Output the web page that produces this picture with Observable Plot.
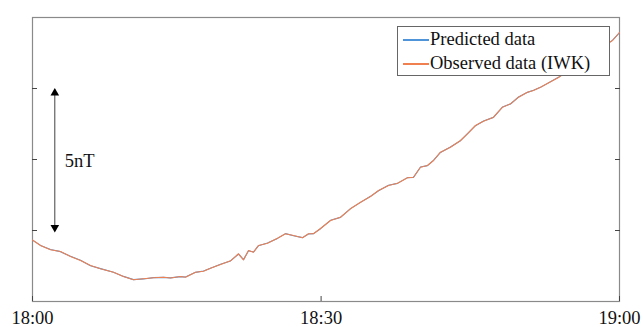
<!DOCTYPE html>
<html>
<head>
<meta charset="utf-8">
<script src="https://cdn.jsdelivr.net/npm/d3@7"></script>
<script src="https://cdn.jsdelivr.net/npm/@observablehq/plot@0.6"></script>
<style>
  html, body { margin: 0; padding: 0; background: #fff; }
  #wrap { position: relative; width: 643px; height: 327px; font-family: "Times New Roman", "Liberation Serif", Times, serif; }
  #legend { position: absolute; left: 397px; top: 26px; width: 211px; height: 48px; border: 1px solid #666; background: #fff; font-size: 18.5px; font-family: "Times New Roman", "Liberation Serif", Times, serif; }
  .row { position: absolute; left: 0; width: 211px; height: 24px; line-height: 24px; white-space: nowrap; }
  .sw { position: absolute; left: 5px; top: 12px; width: 26px; height: 1.5px; display: block; }
  .lb { position: absolute; left: 32px; top: 0; color: #111; display: block; }
</style>
</head>
<body>
<div id="wrap"></div>
<script>
// time in minutes after 18:00
const minutes = [0, 0.82, 1.84, 2.86, 3.88, 4.91, 5.93, 6.95, 8.28, 9.30, 10.32, 11.35, 12.37, 13.39, 14.10, 15.13, 15.64, 16.66, 17.48, 18.19, 19.22, 20.24, 21.06, 21.57, 22.08, 22.59, 23.10, 24.02, 25.04, 25.86, 26.68, 27.60, 28.21, 28.72, 29.44, 30.46, 31.48, 32.50, 33.53, 34.55, 35.37, 36.39, 37.31, 38.33, 38.94, 39.66, 40.37, 40.99, 41.70, 42.72, 43.75, 44.46, 45.28, 46.10, 47.12, 48.04, 48.86, 49.68, 50.59, 51.21, 51.92, 53.76, 56.52, 59.28, 60];
// observed field (nT, relative)
const observed = [2.165, 1.972, 1.820, 1.761, 1.585, 1.444, 1.268, 1.151, 1.032, 0.880, 0.764, 0.799, 0.835, 0.856, 0.827, 0.880, 0.856, 1.032, 1.067, 1.173, 1.303, 1.433, 1.680, 1.468, 1.796, 1.736, 1.972, 2.053, 2.229, 2.384, 2.324, 2.243, 2.384, 2.384, 2.570, 2.852, 2.968, 3.264, 3.496, 3.697, 3.908, 4.085, 4.165, 4.356, 4.377, 4.729, 4.789, 4.965, 5.257, 5.433, 5.669, 5.905, 6.197, 6.349, 6.489, 6.842, 6.961, 7.194, 7.370, 7.430, 7.546, 7.887, 8.556, 9.190, 9.472];
// predicted field (nT, relative)
const predicted = [2.160, 1.975, 1.830, 1.755, 1.590, 1.450, 1.262, 1.158, 1.028, 0.884, 0.770, 0.795, 0.840, 0.850, 0.832, 0.876, 0.862, 1.026, 1.072, 1.168, 1.310, 1.428, 1.672, 1.475, 1.790, 1.742, 1.965, 2.060, 2.222, 2.390, 2.318, 2.250, 2.378, 2.390, 2.564, 2.858, 2.962, 3.270, 3.490, 3.703, 3.902, 4.091, 4.160, 4.362, 4.370, 4.735, 4.783, 4.971, 5.250, 5.440, 5.663, 5.911, 6.190, 6.356, 6.483, 6.848, 6.955, 7.200, 7.364, 7.436, 7.540, 7.893, 8.550, 9.196, 9.466];

const xTickValues = [0, 29.5, 60];
const xTickLabels = ["18:00", "18:30", "19:00"];
const yTickValues = [2.5, 5, 7.5];
const seriesNames = ["Predicted data", "Observed data (IWK)"];
const seriesColors = ["#4f93d8", "#f0804f"];

const scaleBar = {x: 2.28, low: 2.5, high: 7.45, mid: 4.95, label: "5nT", labelX: 3.3};

const obsData = minutes.map((m, i) => ({m, v: observed[i]}));
const predData = minutes.map((m, i) => ({m, v: predicted[i]}));

const FONT = "'Times New Roman', 'Liberation Serif', Times, serif";

const chart = Plot.plot({
  width: 643,
  height: 327,
  marginLeft: 32,
  marginRight: 24,
  marginTop: 17,
  marginBottom: 26,
  style: {fontFamily: FONT, fontSize: "18px", background: "#fff", color: "#222"},
  x: {domain: [0, 60]},
  y: {domain: [0, 10]},
  marks: [
    Plot.frame({stroke: "#8a8a8a", strokeWidth: 1.2}),
    Plot.axisY({anchor: "left", ticks: yTickValues, tickSize: -5, tickFormat: () => "", stroke: "#444", label: null}),
    Plot.axisY({anchor: "right", ticks: yTickValues, tickSize: -5, tickFormat: () => "", stroke: "#444", label: null}),
    Plot.axisX({anchor: "bottom", ticks: xTickValues, tickSize: -5, tickFormat: () => "", stroke: "#444", label: null}),
    Plot.axisX({anchor: "bottom", ticks: xTickValues, tickSize: 0, tickPadding: 9, tickFormat: (d, i) => xTickLabels[i], fontSize: 18.5, fontFamily: FONT, fill: "#111", label: null}),
    Plot.line(predData, {x: "m", y: "v", stroke: seriesColors[0], strokeWidth: 1.1, strokeOpacity: 1}),
    Plot.line(obsData, {x: "m", y: "v", stroke: seriesColors[1], strokeWidth: 1.1, strokeOpacity: 1}),
    Plot.ruleX([scaleBar], {x: "x", y1: "low", y2: "high", stroke: "#111", strokeWidth: 0.8}),
    Plot.dot([scaleBar], {x: "x", y: "high", symbol: "triangle", r: 3.2, fill: "#000", stroke: null, dy: 3}),
    Plot.dot([scaleBar], {x: "x", y: "low", symbol: "triangle", r: 3.2, fill: "#000", stroke: null, rotate: 180, dy: -3}),
    Plot.text([scaleBar], {x: "labelX", y: "mid", text: "label", textAnchor: "start", fontSize: 18.5, fontFamily: FONT, fill: "#111"})
  ]
});

const wrap = document.getElementById("wrap");
wrap.appendChild(chart);

const legend = document.createElement("div");
legend.id = "legend";
seriesNames.forEach((name, i) => {
  const row = document.createElement("div");
  row.className = "row";
  row.style.top = (i * 24) + "px";
  const sw = document.createElement("div");
  sw.className = "sw";
  sw.style.background = seriesColors[i];
  const lb = document.createElement("div");
  lb.className = "lb";
  lb.textContent = name;
  row.appendChild(sw);
  row.appendChild(lb);
  legend.appendChild(row);
});
wrap.appendChild(legend);
</script>
</body>
</html>
